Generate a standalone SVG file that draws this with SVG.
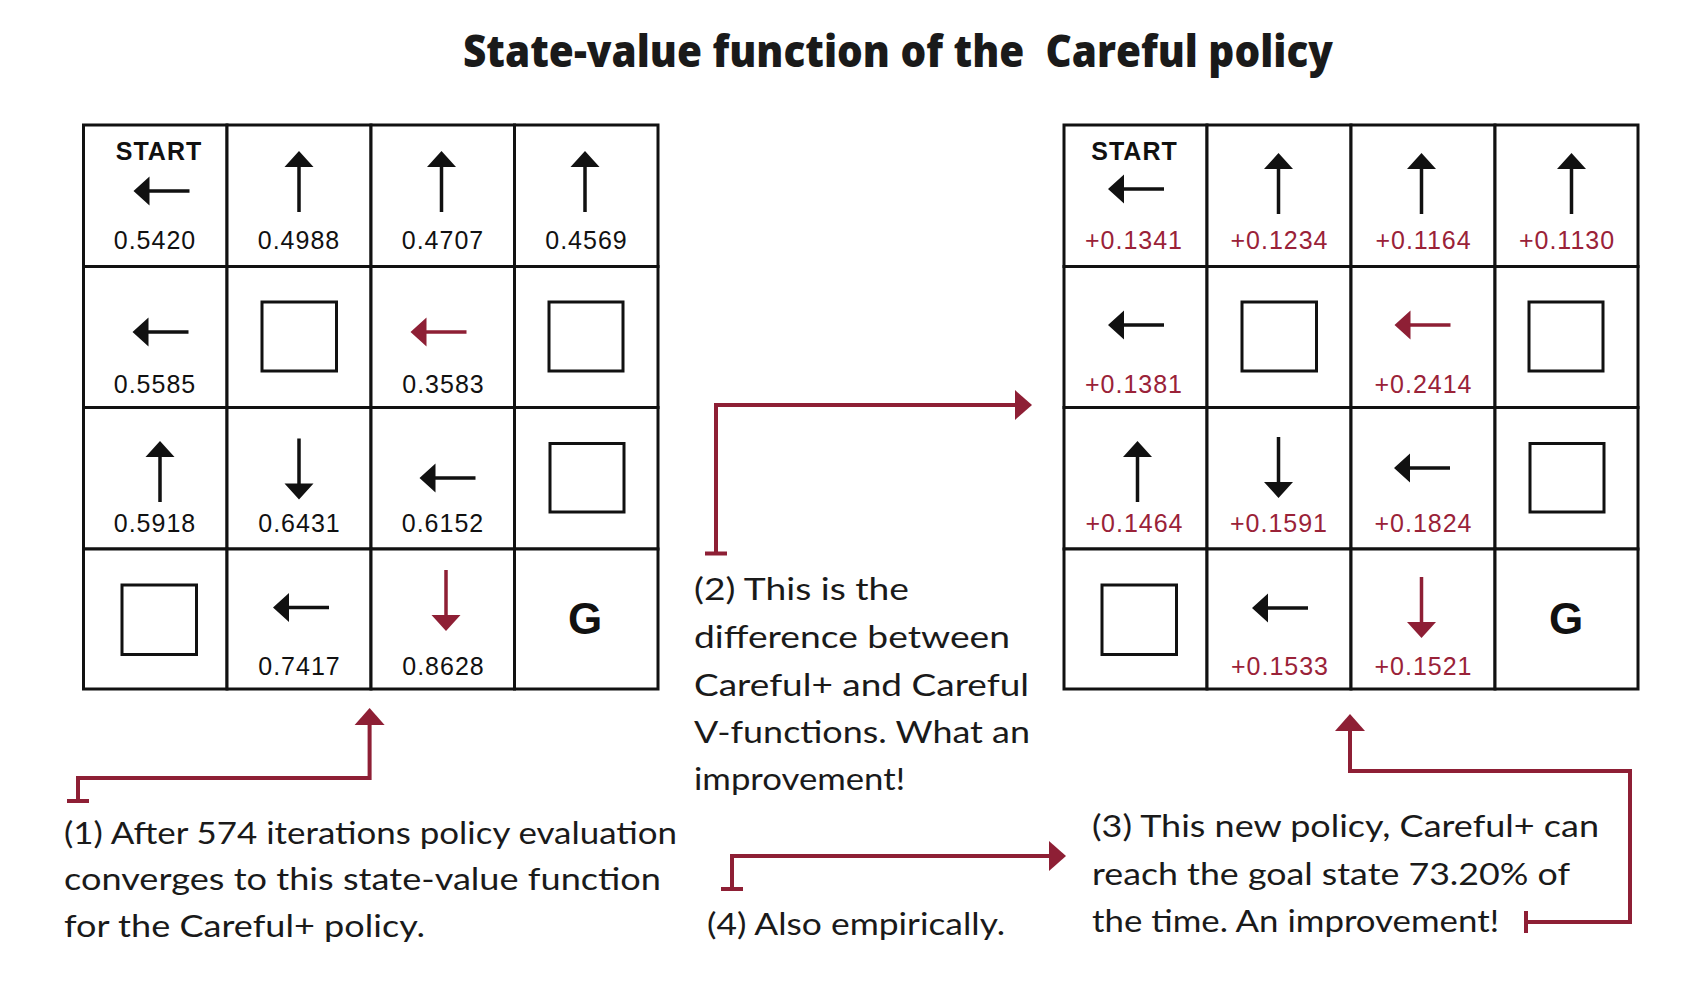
<svg xmlns="http://www.w3.org/2000/svg" width="1702" height="984" viewBox="0 0 1702 984">
<style>
.cell{fill:#fff;stroke:#111;stroke-width:3}
.wall{fill:#fff;stroke:#111;stroke-width:3}
.k{fill:#111}
.r{fill:#8e1f35}
.num{font-family:"Liberation Sans",Arial,sans-serif;font-size:25px;letter-spacing:1px;text-anchor:middle;fill:#111}
.rn{fill:#9a2238}
.start{font-family:"Liberation Sans",Arial,sans-serif;font-size:25px;font-weight:700;letter-spacing:1px;text-anchor:middle;fill:#111}
.g{font-family:"Liberation Sans",Arial,sans-serif;font-size:44px;font-weight:700;text-anchor:middle;fill:#111}
.title{font-family:"Open Sans","Liberation Sans",sans-serif;font-size:44px;font-weight:800;fill:#1a1a1a}
.note{font-family:Lato,"Open Sans",sans-serif;font-size:30px;fill:#1a1a1a}
.conn{fill:none;stroke:#8e1f35;stroke-width:4;stroke-linejoin:miter}
</style>
<defs>
<path id="aU" d="M0,0 L14.5,16 L1.75,16 L1.75,61 L-1.75,61 L-1.75,16 L-14.5,16 Z"/>
<path id="aD" d="M0,0 L-14.5,-16 L-1.75,-16 L-1.75,-61 L1.75,-61 L1.75,-16 L14.5,-16 Z"/>
<path id="aL" d="M0,0 L16,-14.5 L16,-1.75 L56,-1.75 L56,1.75 L16,1.75 L16,14.5 Z"/>
<marker id="ah" markerUnits="userSpaceOnUse" markerWidth="17" markerHeight="30" refX="0" refY="15" orient="auto" overflow="visible"><path d="M0,0 L17,15 L0,30 Z" fill="#8e1f35"/></marker>
<marker id="tee" markerUnits="userSpaceOnUse" markerWidth="4" markerHeight="22" refX="0" refY="0" orient="auto" overflow="visible"><rect x="-2" y="-11" width="4" height="22" fill="#8e1f35"/></marker>
</defs>
<rect width="1702" height="984" fill="#fff"/>
<text id="title" class="title" x="463" y="67" textLength="870" lengthAdjust="spacingAndGlyphs" xml:space="preserve">State-value function of the  Careful policy</text>

<!-- LEFT GRID -->
<g id="left-grid">
<g id="L-r1c1"><rect class="cell" x="83.5" y="125" width="143.5" height="141.5"/><text class="start" x="159" y="160">START</text><use href="#aL" class="k" x="133.5" y="191"/><text class="num" x="155" y="249">0.5420</text></g>
<g id="L-r1c2"><rect class="cell" x="227" y="125" width="144" height="141.5"/><use href="#aU" class="k" x="299" y="151"/><text class="num" x="299" y="249">0.4988</text></g>
<g id="L-r1c3"><rect class="cell" x="371" y="125" width="143.5" height="141.5"/><use href="#aU" class="k" x="441.5" y="151"/><text class="num" x="443" y="249">0.4707</text></g>
<g id="L-r1c4"><rect class="cell" x="514.5" y="125" width="143.5" height="141.5"/><use href="#aU" class="k" x="585" y="151"/><text class="num" x="586.5" y="249">0.4569</text></g>

<g id="L-r2c1"><rect class="cell" x="83.5" y="266.5" width="143.5" height="141"/><use href="#aL" class="k" x="132.5" y="332"/><text class="num" x="155" y="393">0.5585</text></g>
<g id="L-r2c2"><rect class="cell" x="227" y="266.5" width="144" height="141"/><rect class="wall" x="262" y="302" width="74.5" height="69"/></g>
<g id="L-r2c3"><rect class="cell" x="371" y="266.5" width="143.5" height="141"/><use href="#aL" class="r" x="410.5" y="332"/><text class="num" x="443.5" y="393">0.3583</text></g>
<g id="L-r2c4"><rect class="cell" x="514.5" y="266.5" width="143.5" height="141"/><rect class="wall" x="549" y="302" width="74" height="69"/></g>

<g id="L-r3c1"><rect class="cell" x="83.5" y="407.5" width="143.5" height="141.5"/><use href="#aU" class="k" x="160" y="441"/><text class="num" x="155" y="532">0.5918</text></g>
<g id="L-r3c2"><rect class="cell" x="227" y="407.5" width="144" height="141.5"/><use href="#aD" class="k" x="299" y="499.5"/><text class="num" x="299.5" y="532">0.6431</text></g>
<g id="L-r3c3"><rect class="cell" x="371" y="407.5" width="143.5" height="141.5"/><use href="#aL" class="k" x="419.5" y="478"/><text class="num" x="443" y="532">0.6152</text></g>
<g id="L-r3c4"><rect class="cell" x="514.5" y="407.5" width="143.5" height="141.5"/><rect class="wall" x="550" y="443.5" width="74" height="68.5"/></g>

<g id="L-r4c1"><rect class="cell" x="83.5" y="549" width="143.5" height="140"/><rect class="wall" x="122" y="585" width="74.5" height="69.5"/></g>
<g id="L-r4c2"><rect class="cell" x="227" y="549" width="144" height="140"/><use href="#aL" class="k" x="273" y="607.5"/><text class="num" x="299.5" y="674.5">0.7417</text></g>
<g id="L-r4c3"><rect class="cell" x="371" y="549" width="143.5" height="140"/><use href="#aD" class="r" x="446" y="631"/><text class="num" x="443.5" y="674.5">0.8628</text></g>
<g id="L-r4c4"><rect class="cell" x="514.5" y="549" width="143.5" height="140"/><text class="g" x="585" y="634">G</text></g>
</g>

<!-- RIGHT GRID -->
<g id="right-grid">
<g id="R-r1c1"><rect class="cell" x="1064" y="125" width="143" height="141.5"/><text class="start" x="1134.5" y="160">START</text><use href="#aL" class="k" x="1108" y="189"/><text class="num rn" x="1134" y="249">+0.1341</text></g>
<g id="R-r1c2"><rect class="cell" x="1207" y="125" width="144" height="141.5"/><use href="#aU" class="k" x="1278.5" y="153"/><text class="num rn" x="1279.5" y="249">+0.1234</text></g>
<g id="R-r1c3"><rect class="cell" x="1351" y="125" width="144" height="141.5"/><use href="#aU" class="k" x="1421.5" y="153"/><text class="num rn" x="1423.5" y="249">+0.1164</text></g>
<g id="R-r1c4"><rect class="cell" x="1495" y="125" width="143" height="141.5"/><use href="#aU" class="k" x="1571.5" y="153"/><text class="num rn" x="1567" y="249">+0.1130</text></g>

<g id="R-r2c1"><rect class="cell" x="1064" y="266.5" width="143" height="141"/><use href="#aL" class="k" x="1108" y="325"/><text class="num rn" x="1134" y="393">+0.1381</text></g>
<g id="R-r2c2"><rect class="cell" x="1207" y="266.5" width="144" height="141"/><rect class="wall" x="1242" y="302" width="74.5" height="69"/></g>
<g id="R-r2c3"><rect class="cell" x="1351" y="266.5" width="144" height="141"/><use href="#aL" class="r" x="1394.5" y="325"/><text class="num rn" x="1423.5" y="393">+0.2414</text></g>
<g id="R-r2c4"><rect class="cell" x="1495" y="266.5" width="143" height="141"/><rect class="wall" x="1529" y="302" width="74" height="69"/></g>

<g id="R-r3c1"><rect class="cell" x="1064" y="407.5" width="143" height="141.5"/><use href="#aU" class="k" x="1137.5" y="441"/><text class="num rn" x="1134.5" y="532">+0.1464</text></g>
<g id="R-r3c2"><rect class="cell" x="1207" y="407.5" width="144" height="141.5"/><use href="#aD" class="k" x="1278.5" y="498"/><text class="num rn" x="1279" y="532">+0.1591</text></g>
<g id="R-r3c3"><rect class="cell" x="1351" y="407.5" width="144" height="141.5"/><use href="#aL" class="k" x="1394" y="468"/><text class="num rn" x="1423.5" y="532">+0.1824</text></g>
<g id="R-r3c4"><rect class="cell" x="1495" y="407.5" width="143" height="141.5"/><rect class="wall" x="1530" y="443.5" width="74" height="68.5"/></g>

<g id="R-r4c1"><rect class="cell" x="1064" y="549" width="143" height="140"/><rect class="wall" x="1102" y="585" width="74.5" height="69.5"/></g>
<g id="R-r4c2"><rect class="cell" x="1207" y="549" width="144" height="140"/><use href="#aL" class="k" x="1252" y="608"/><text class="num rn" x="1280" y="674.5">+0.1533</text></g>
<g id="R-r4c3"><rect class="cell" x="1351" y="549" width="144" height="140"/><use href="#aD" class="r" x="1421.5" y="638"/><text class="num rn" x="1423.5" y="674.5">+0.1521</text></g>
<g id="R-r4c4"><rect class="cell" x="1495" y="549" width="143" height="140"/><text class="g" x="1566" y="634">G</text></g>
</g>

<!-- ANNOTATIONS -->
<g id="note1"><text class="note" x="64" y="844" textLength="613" lengthAdjust="spacingAndGlyphs">(1) After 574 iterations policy evaluation</text><text class="note" x="64" y="890" textLength="597" lengthAdjust="spacingAndGlyphs">converges to this state-value function</text><text class="note" x="64" y="937" textLength="361" lengthAdjust="spacingAndGlyphs">for the Careful+ policy.</text></g>
<g id="note2"><text class="note" x="694" y="600" textLength="215" lengthAdjust="spacingAndGlyphs">(2) This is the</text><text class="note" x="694" y="648" textLength="316" lengthAdjust="spacingAndGlyphs">difference between</text><text class="note" x="694" y="696" textLength="335" lengthAdjust="spacingAndGlyphs">Careful+ and Careful</text><text class="note" x="694" y="743" textLength="336" lengthAdjust="spacingAndGlyphs">V-functions. What an</text><text class="note" x="694" y="790" textLength="211" lengthAdjust="spacingAndGlyphs">improvement!</text></g>
<g id="note3"><text class="note" x="1092" y="837" textLength="507" lengthAdjust="spacingAndGlyphs">(3) This new policy, Careful+ can</text><text class="note" x="1092" y="885" textLength="478" lengthAdjust="spacingAndGlyphs">reach the goal state 73.20% of</text><text class="note" x="1092" y="932" textLength="407" lengthAdjust="spacingAndGlyphs">the time. An improvement!</text></g>
<g id="note4"><text class="note" x="707" y="935" textLength="298" lengthAdjust="spacingAndGlyphs">(4) Also empirically.</text></g>

<!-- CONNECTORS -->
<g id="connectors">
<path class="conn" d="M78,801 V778 H369.6 V725" marker-start="url(#tee)" marker-end="url(#ah)"/>
<path class="conn" d="M716,553.5 V405 H1015" marker-start="url(#tee)" marker-end="url(#ah)"/>
<path class="conn" d="M1526,922 H1630 V771 H1350 V731" marker-start="url(#tee)" marker-end="url(#ah)"/>
<path class="conn" d="M732,889 V856 H1049" marker-start="url(#tee)" marker-end="url(#ah)"/>
</g>
</svg>
